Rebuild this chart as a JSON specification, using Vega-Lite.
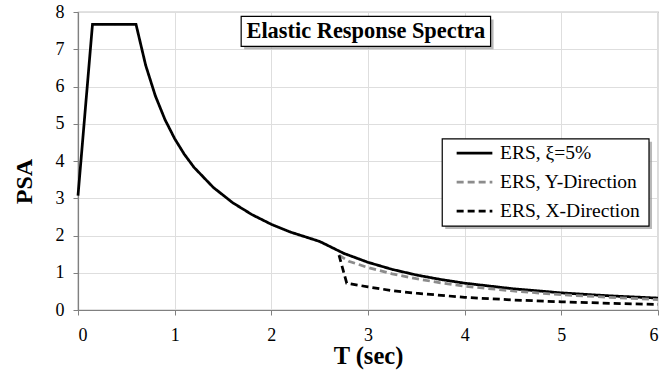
{
  "$schema": "https://vega.github.io/schema/vega-lite/v6.json",
  "width": 580,
  "height": 298,
  "autosize": {"type": "none"},
  "padding": {"left": 78, "top": 12, "right": 4, "bottom": 60},
  "background": "white",
  "config": {
    "font": "Liberation Serif",
    "view": {"stroke": "#8c8c8c", "strokeWidth": 1.2},
    "axis": {
      "grid": true,
      "gridColor": "#dedede",
      "gridWidth": 1,
      "domainColor": "#808080",
      "domainWidth": 1.2,
      "tickColor": "#808080",
      "tickSize": 5,
      "labelFont": "Liberation Serif",
      "labelFontSize": 18,
      "labelColor": "#000000",
      "labelOverlap": false,
      "titleFont": "Liberation Serif",
      "titleFontWeight": "bold",
      "titleColor": "#000000"
    },
    "axisX": {"tickCount": 6, "format": "d", "titleFontSize": 24.5, "labelPadding": 11, "titlePadding": 0},
    "axisY": {"tickCount": 8, "format": "d", "titleFontSize": 24, "labelPadding": 9, "titleX": -54, "titleY": 169, "titleAlign": "center", "titleBaseline": "middle", "titleAngle": 270}
  },
  "datasets": {
    "curves": [
      {"T": 0.0, "PSA": 3.07, "series": "ERS, ξ=5%"},
      {"T": 0.15, "PSA": 7.67, "series": "ERS, ξ=5%"},
      {"T": 0.6, "PSA": 7.67, "series": "ERS, ξ=5%"},
      {"T": 0.7, "PSA": 6.57, "series": "ERS, ξ=5%"},
      {"T": 0.8, "PSA": 5.75, "series": "ERS, ξ=5%"},
      {"T": 0.9, "PSA": 5.11, "series": "ERS, ξ=5%"},
      {"T": 1.0, "PSA": 4.6, "series": "ERS, ξ=5%"},
      {"T": 1.1, "PSA": 4.18, "series": "ERS, ξ=5%"},
      {"T": 1.2, "PSA": 3.83, "series": "ERS, ξ=5%"},
      {"T": 1.4, "PSA": 3.29, "series": "ERS, ξ=5%"},
      {"T": 1.6, "PSA": 2.88, "series": "ERS, ξ=5%"},
      {"T": 1.8, "PSA": 2.56, "series": "ERS, ξ=5%"},
      {"T": 2.0, "PSA": 2.3, "series": "ERS, ξ=5%"},
      {"T": 2.2, "PSA": 2.09, "series": "ERS, ξ=5%"},
      {"T": 2.5, "PSA": 1.84, "series": "ERS, ξ=5%"},
      {"T": 2.75, "PSA": 1.52, "series": "ERS, ξ=5%"},
      {"T": 3.0, "PSA": 1.28, "series": "ERS, ξ=5%"},
      {"T": 3.25, "PSA": 1.09, "series": "ERS, ξ=5%"},
      {"T": 3.5, "PSA": 0.94, "series": "ERS, ξ=5%"},
      {"T": 3.75, "PSA": 0.82, "series": "ERS, ξ=5%"},
      {"T": 4.0, "PSA": 0.72, "series": "ERS, ξ=5%"},
      {"T": 4.5, "PSA": 0.57, "series": "ERS, ξ=5%"},
      {"T": 5.0, "PSA": 0.46, "series": "ERS, ξ=5%"},
      {"T": 5.5, "PSA": 0.38, "series": "ERS, ξ=5%"},
      {"T": 6.0, "PSA": 0.32, "series": "ERS, ξ=5%"},
      {"T": 2.7, "PSA": 1.47, "series": "ERS, Y-Direction"},
      {"T": 2.8, "PSA": 1.31, "series": "ERS, Y-Direction"},
      {"T": 3.0, "PSA": 1.14, "series": "ERS, Y-Direction"},
      {"T": 3.25, "PSA": 0.97, "series": "ERS, Y-Direction"},
      {"T": 3.5, "PSA": 0.84, "series": "ERS, Y-Direction"},
      {"T": 3.75, "PSA": 0.73, "series": "ERS, Y-Direction"},
      {"T": 4.0, "PSA": 0.64, "series": "ERS, Y-Direction"},
      {"T": 4.5, "PSA": 0.51, "series": "ERS, Y-Direction"},
      {"T": 5.0, "PSA": 0.41, "series": "ERS, Y-Direction"},
      {"T": 5.5, "PSA": 0.34, "series": "ERS, Y-Direction"},
      {"T": 6.0, "PSA": 0.28, "series": "ERS, Y-Direction"},
      {"T": 2.7, "PSA": 1.47, "series": "ERS, X-Direction"},
      {"T": 2.78, "PSA": 0.72, "series": "ERS, X-Direction"},
      {"T": 3.0, "PSA": 0.62, "series": "ERS, X-Direction"},
      {"T": 3.25, "PSA": 0.52, "series": "ERS, X-Direction"},
      {"T": 3.5, "PSA": 0.45, "series": "ERS, X-Direction"},
      {"T": 4.0, "PSA": 0.34, "series": "ERS, X-Direction"},
      {"T": 4.5, "PSA": 0.27, "series": "ERS, X-Direction"},
      {"T": 5.0, "PSA": 0.22, "series": "ERS, X-Direction"},
      {"T": 5.5, "PSA": 0.18, "series": "ERS, X-Direction"},
      {"T": 6.0, "PSA": 0.15, "series": "ERS, X-Direction"}
    ]
  },
  "layer": [
    {
      "data": {"name": "curves"},
      "mark": {"type": "line", "strokeWidth": 2.75},
      "encoding": {
        "x": {
          "field": "T", "type": "quantitative",
          "scale": {"domain": [0, 6], "nice": false},
          "axis": {"title": "T (sec)"}
        },
        "y": {
          "field": "PSA", "type": "quantitative",
          "scale": {"domain": [0, 8], "nice": false},
          "axis": {"title": "PSA"}
        },
        "color": {
          "field": "series", "type": "nominal",
          "scale": {"domain": ["ERS, ξ=5%", "ERS, Y-Direction", "ERS, X-Direction"], "range": ["#000000", "#8c8c8c", "#000000"]},
          "legend": {
            "title": null, "orient": "none", "legendX": 377, "legendY": 121.5,
            "symbolType": "stroke", "symbolSize": 1275, "symbolStrokeWidth": 2.75,
            "labelFont": "Liberation Serif", "labelFontSize": 19.5, "labelColor": "#000000",
            "labelOffset": 6, "rowPadding": -7, "padding": 0
          }
        },
        "strokeDash": {
          "field": "series", "type": "nominal",
          "scale": {"domain": ["ERS, ξ=5%", "ERS, Y-Direction", "ERS, X-Direction"], "range": [[1, 0], [7, 4], [7, 4]]},
          "legend": {
            "title": null, "orient": "none", "legendX": 377, "legendY": 121.5,
            "symbolType": "stroke", "symbolSize": 1275, "symbolStrokeWidth": 2.75,
            "labelFont": "Liberation Serif", "labelFontSize": 19.5, "labelColor": "#000000",
            "labelOffset": 6, "rowPadding": -7, "padding": 0
          }
        }
      }
    },
    {
      "data": {"values": [{}]},
      "mark": {"type": "rect", "fill": "#9a9a9a", "opacity": 0.7},
      "encoding": {"x": {"datum": 1.719}, "x2": {"datum": 4.299}, "y": {"datum": 7.802}, "y2": {"datum": 6.997}}
    },
    {
      "data": {"values": [{}]},
      "mark": {"type": "rect", "fill": "#ffffff", "stroke": "#000000", "strokeWidth": 1.2},
      "encoding": {"x": {"datum": 1.688}, "x2": {"datum": 4.268}, "y": {"datum": 7.882}, "y2": {"datum": 7.078}}
    },
    {
      "data": {"values": [{"label": "Elastic Response Spectra"}]},
      "mark": {"type": "text", "font": "Liberation Serif", "fontSize": 22.4, "fontWeight": "bold", "color": "#000000"},
      "encoding": {"x": {"datum": 2.978}, "y": {"datum": 7.48}, "text": {"field": "label"}}
    },
    {
      "data": {"values": [{}]},
      "mark": {"type": "rect", "fill": "#9a9a9a", "opacity": 0.7},
      "encoding": {"x": {"datum": 3.799}, "x2": {"datum": 5.938}, "y": {"datum": 4.515}, "y2": {"datum": 2.172}}
    },
    {
      "data": {"values": [{}]},
      "mark": {"type": "rect", "fill": "#ffffff", "stroke": "#000000", "strokeWidth": 1.2},
      "encoding": {"x": {"datum": 3.768}, "x2": {"datum": 5.907}, "y": {"datum": 4.595}, "y2": {"datum": 2.252}}
    }
  ]
}
